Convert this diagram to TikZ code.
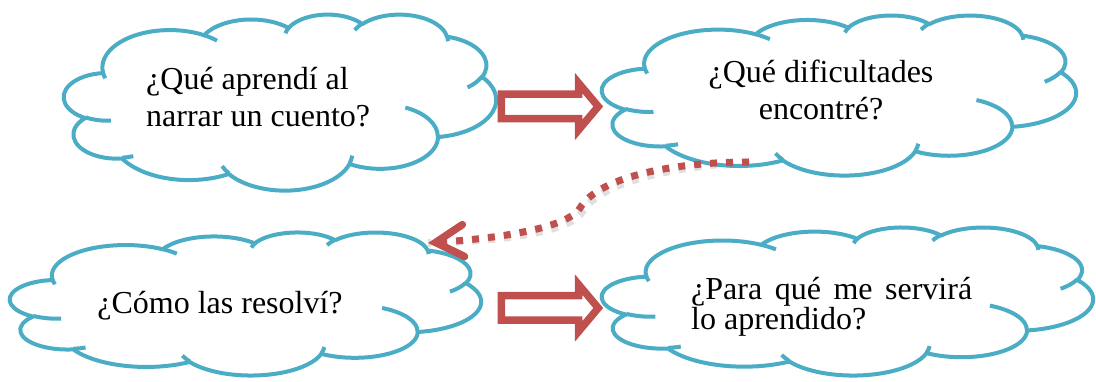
\documentclass[tikz,border=0pt]{standalone}
\usepackage{fontspec}
\setmainfont{Liberation Serif}
\usetikzlibrary{shapes.arrows}
\usetikzlibrary{arrows.meta}
\usetikzlibrary{positioning}
\definecolor{CloudBlue}{HTML}{4BACC6}
\definecolor{ArrowRed}{HTML}{C0504D}

\makeatletter
\pgfmathdeclarefunction{ooxang}{3}{%
  \begingroup
    \pgfmathparse{atan2((#2)*sin(#1),(#3)*cos(#1))-(#1)}%
    \edef\ooxdiff{\pgfmathresult}%
    \pgfmathparse{(#1)+\ooxdiff-360*round(\ooxdiff/360)}%
    \pgfmath@smuggleone\pgfmathresult
  \endgroup}
\makeatother
\newcommand{\ooxarc}[4]{arc[x radius=#1, y radius=#2,
  start angle={ooxang(#3,#1,#2)},
  delta angle={ooxang(#3+#4,#1,#2)-ooxang(#3,#1,#2)}]}

\tikzset{
  cloudline/.style={draw=CloudBlue, line width=4pt, line join=round},
  pics/wordcloud/.style n args={2}{code={%
    \begin{scope}[xscale=#1/432, yscale=#2/432, shift={(-216,-216)}]
      \path [cloudline, fill=white] (39,143.70)
        \ooxarc{67.53}{91.90}{-190.4875}{123.7805}
        \ooxarc{53.33}{72.67}{-144.1024}{89.9452}
        \ooxarc{43.65}{59.45}{-145.8079}{99.7230}
        \ooxarc{48.57}{65.95}{-130.9861}{117.2417}
        \ooxarc{53.33}{72.73}{-78.7089}{109.0269}
        \ooxarc{67.75}{92.20}{-46.2673}{130.2690}
        \ooxarc{57.85}{78.67}{0.6250}{114.0333}
        \ooxarc{67.52}{92.15}{22.4516}{115.1726}
        \ooxarc{77.20}{105.43}{66.2426}{75.7110}
        \ooxarc{43.60}{59.18}{-274.9421}{146.7356}
        \ooxarc{43.45}{59.45}{-246.8285}{152.5189} -- cycle;
      \path [cloudline]
        (46.93,261.77) \ooxarc{43.45}{59.45}{86.7420}{26.4295}
        (69.28,348.99) \ooxarc{43.60}{59.18}{73.6105}{11.4475}
        (164.78,390.90) \ooxarc{67.52}{92.15}{137.6242}{14.0811}
        (288.27,347.51) \ooxarc{67.52}{92.15}{6.4533}{15.9984}
        (341.29,229.54) \ooxarc{57.85}{78.67}{-70.2924}{70.9174}
        (417.98,153.54) \ooxarc{53.33}{72.73}{30.3180}{27.7515}
        (383.24,54.26) \ooxarc{48.57}{65.95}{-13.7443}{14.8589}
        (290.78,39.52) \ooxarc{48.57}{65.95}{-149.1815}{18.1954}
        (221.41,47.20) \ooxarc{43.65}{59.45}{-163.4943}{17.6864}
        (140.00,51.92) \ooxarc{67.53}{91.90}{-66.7070}{12.3194}
        (41.27,157.89) \ooxarc{67.53}{91.90}{157.6544}{11.8582};
    \end{scope}
    \node [inner sep=0pt, minimum width=#1pt, minimum height=#2pt] (-box) {};
  }}
}

\begin{document}
\begin{tikzpicture}[x=1pt, y=-1pt,
  question/.style={inner sep=0pt, font=\fontsize{32}{37}\selectfont},
  blockarrow/.style={single arrow, draw=ArrowRed, line width=7.5pt, fill=white,
    inner xsep=0pt, inner ysep=8.5pt, minimum height=97pt, anchor=tail,
    single arrow head extend=11pt, single arrow tip angle=100}]
  \useasboundingbox (0,0) rectangle (1096,382);

  \pic (Learnt)   at (280,102)   {wordcloud={432}{176}};
  \pic (Problems) at (839,95)    {wordcloud={474}{160}};
  \pic (Solved)   at (245.5,303.5) {wordcloud={471}{143}};
  \pic (Future)   at (847.5,301) {wordcloud={491}{148}};

  \node [question, align=left, anchor=west] (LearntText) at (146,97.5)
    {¿Qué aprendí al\\narrar un cuento?};
  \node [question, align=center] (ProblemsText) at (821,89.5)
    {¿Qué dificultades\\encontré?};
  \node [question, anchor=base] (SolvedText) at (220,313) {¿Cómo las resolví?};
  \node [question, align=left, anchor=west, font=\fontsize{32}{29}\selectfont]
    (FutureText) at (691,306.5)
    {\makebox[281pt][s]{¿Para qué me servirá}\\lo aprendido?};

  \node [blockarrow] (StepOne) at (497.5,106.5) {};
  \node [blockarrow] (StepTwo) at (497.5,308) {};

  \coordinate (TrailStart) at (749,162);
  \coordinate (TrailEnd) at (428,243);
  \draw [gray, opacity=0.25, line width=7.5pt, dash pattern=on 7pt off 9pt,
    shift={(2,4)}]
    (TrailStart) .. controls (680,162) and (600,175) .. (580,208)
    .. controls (572,222) and (530,236) .. (TrailEnd);
  \draw [ArrowRed, line width=7pt, dash pattern=on 7pt off 9pt,
    -{Straight Barb[length=28pt, width=32pt, line width=7.5pt, line cap=round]}]
    (TrailStart) .. controls (680,162) and (600,175) .. (580,208)
    .. controls (572,222) and (530,236) .. (TrailEnd);
\end{tikzpicture}
\end{document}
